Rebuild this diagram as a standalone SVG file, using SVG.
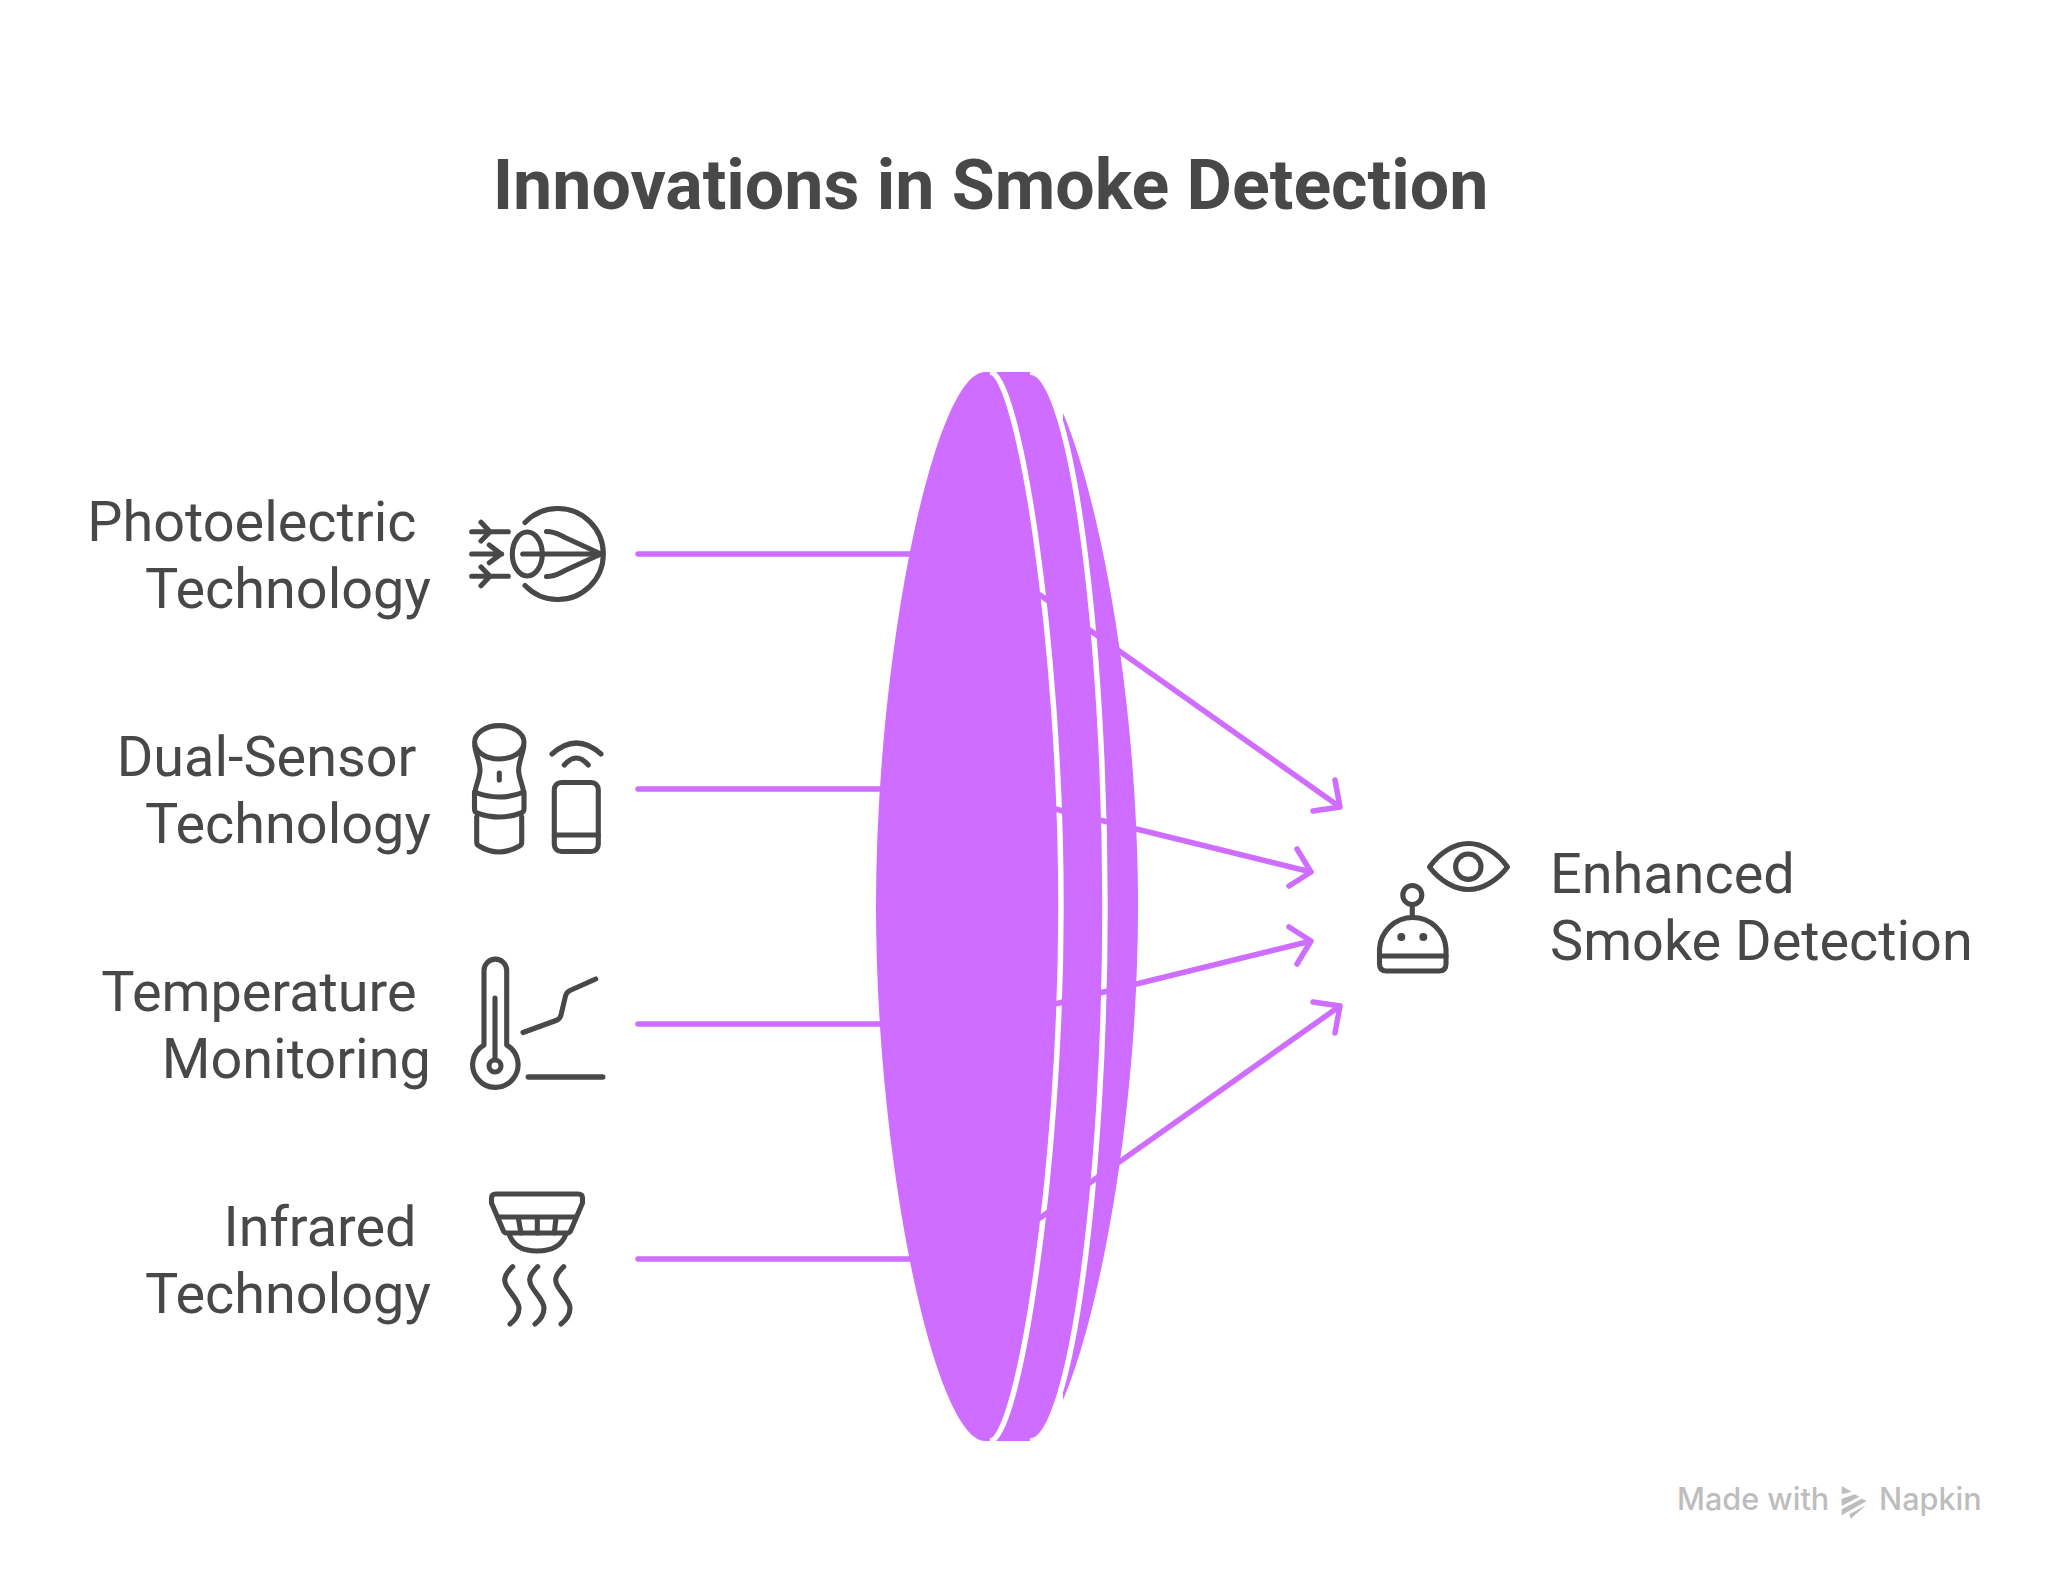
<svg xmlns="http://www.w3.org/2000/svg" width="2048" height="1578" viewBox="0 0 2048 1578">
<style>
.t{font-family:Roboto,"Liberation Sans",sans-serif;fill:#484848;font-size:55.8px}
.r{text-anchor:end}
.i{fill:none;stroke:#484848;stroke-width:5.1;stroke-linecap:round;stroke-linejoin:round}
.c{fill:none;stroke:#CE6DFF;stroke-width:5.5;stroke-linecap:round;stroke-linejoin:round}
.w{fill:none;stroke:#fff;stroke-width:5.5}
.f{fill:#CE6DFF}
.m{font-family:Inter,Roboto,"Liberation Sans",sans-serif;fill:#bdbdbd;font-size:30.6px;font-weight:500}
</style>
<rect width="2048" height="1578" fill="#fff"/>
<text id="title" x="990.500" y="209.300" text-anchor="middle" style="font-family:Roboto,'Liberation Sans',sans-serif;font-size:69.900px;font-weight:700;fill:#484848">Innovations in Smoke Detection</text>
<g id="lens">
<path class="f" d="M1063 413C1100 500 1138 700 1138 906.500C1138 1113 1100 1313 1063 1400Z"/>
<path class="f" d="M995 372H1030C1072 372 1105 640 1105 906.500C1105 1173 1072 1441 1030 1441H995Z"/>
<path class="w" d="M1030 372C1072 372 1105 640 1105 906.500C1105 1173 1072 1441 1030 1441"/>
<path class="f" d="M985 372C935 372 876 650 876 906.500C876 1163 935 1441 985 1441H990C1018 1441 1061 1173 1061 906.500C1061 640 1018 372 990 372Z"/>
<path class="w" d="M990 372C1018 372 1061 640 1061 906.500C1061 1173 1018 1441 990 1441"/>
</g>
<g id="connectors">
<path class="c" d="M638 554H915"/>
<path class="c" d="M638 789H885"/>
<path class="c" d="M638 1024H885"/>
<path class="c" d="M638 1259H915"/>
<path class="c" d="M1040 595L1340 807M1335 780L1340 807L1313 811"/>
<path class="c" d="M1055 809L1311 872M1297 849L1311 872L1289 886"/>
<path class="c" d="M1055 1004L1311 941M1297 964L1311 941L1289 927"/>
<path class="c" d="M1040 1218L1340 1006M1335 1033L1340 1006L1313 1002"/>
</g>
<g id="node-photoelectric">
<text class="t r" x="416.500" y="540.500">Photoelectric</text>
<text class="t r" x="430.800" y="607.500">Technology</text>
<g class="i">
<path d="M525 522.500A45.500 45.500 0 1 1 525 585.500"/>
<ellipse cx="527.300" cy="554" rx="15" ry="22"/>
<path d="M522.700 554H601.700"/>
<path d="M546.500 531.500C555 531.500 558 534 565 537.500L601 554L565 570.500C558 574 555 576.500 546.500 576.500"/>
<path d="M471.700 531.700H508.300M481 522.300L490 531.700L481 541"/>
<path d="M471.700 554H501.700M489.300 545L501 554L489.300 562.700"/>
<path d="M471.700 576.300H508.300M481 567L490 576.300L481 585.700"/>
</g>
</g>
<g id="node-dual-sensor">
<text class="t r" x="416.500" y="775.500">Dual-Sensor</text>
<text class="t r" x="430.800" y="842.500">Technology</text>
<g class="i">
<ellipse cx="499.300" cy="742.300" rx="24.700" ry="16.700"/>
<path d="M474.800 746C476 755 480 762 480 770C480 778 476 784 475 792M523.800 746C522.600 755 518.600 762 518.600 770C518.600 778 522.600 784 523.600 792"/>
<path d="M474.500 792V809Q474.500 812 477 813Q499 821 521 813Q524 812 524 809V792Q499 802 474.500 792Z"/>
<path d="M476.700 817V842Q476.700 845 479 846Q499 858 519.500 846Q521.700 845 521.700 842V817"/>
<path d="M499.300 773V780"/>
<rect x="554.300" y="782.500" width="44" height="69" rx="7"/>
<path d="M554.300 835H598.300"/>
<path d="M552 754Q576.500 732 601 754M564.300 765Q576.300 751 588.300 765"/>
</g>
</g>
<g id="node-temperature">
<text class="t r" x="416.500" y="1010.500">Temperature</text>
<text class="t r" x="430.800" y="1077.500">Monitoring</text>
<g class="i">
<path d="M484 1045V970.500A11.300 11.300 0 0 1 506.700 970.500V1045A22.700 22.700 0 1 1 484 1045Z"/>
<path d="M495 998V1058"/>
<circle cx="495" cy="1066" r="6"/>
<path d="M523 1032.500L556 1020.500Q560 1019 561 1015L565.500 996Q566.500 992 570 990.500L595.700 979"/>
<path d="M528.300 1077H602.700" stroke-width="5.500"/>
</g>
</g>
<g id="node-infrared">
<text class="t r" x="416.500" y="1245.500">Infrared</text>
<text class="t r" x="430.800" y="1312.500">Technology</text>
<g class="i">
<path d="M496 1194H578Q582.500 1194 582.500 1198V1203L571 1230Q570 1233 567 1233H507Q504 1233 503 1230L491.500 1203V1198Q491.500 1194 496 1194Z"/>
<path d="M498 1217H576M518.300 1218L521 1233M537.300 1218V1233M556 1218L554.300 1233"/>
<path d="M509 1234Q515 1251 537 1251Q560 1251 566 1234"/>
<path d="M512.700 1266.700C507 1272 504 1278 505 1282C506 1290 519 1299 519 1308C519 1315 514 1321 510 1324"/>
<path d="M537.700 1266.700C532 1272 529 1278 530 1282C531 1290 544 1299 544 1308C544 1315 539 1321 535 1324"/>
<path d="M563.700 1266.700C558 1272 555 1278 556 1282C557 1290 570 1299 570 1308C570 1315 565 1321 561 1324"/>
</g>
</g>
<g id="node-enhanced">
<text class="t" x="1550" y="892.500">Enhanced</text>
<text class="t" x="1550" y="959.500">Smoke Detection</text>
<g class="i">
<path d="M1429.500 867C1440 852 1455 843.500 1468.500 843.500C1482 843.500 1497 852 1507.500 867C1497 881 1482 889.500 1468.500 889.500C1455 889.500 1440 881 1429.500 867Z"/>
<circle cx="1468.300" cy="866.700" r="12.700"/>
<circle cx="1412.300" cy="895" r="9.500"/>
<path d="M1412.300 905V915"/>
<path d="M1379.500 964V949A33.300 33.300 0 0 1 1446 949V964Q1446 971 1439 971H1386.500Q1379.500 971 1379.500 964Z"/>
<path d="M1379.500 956H1446"/>
</g>
<circle cx="1401.300" cy="937" r="4" fill="#484848"/>
<circle cx="1423.300" cy="937" r="4" fill="#484848"/>
</g>
<g id="watermark">
<text class="m" x="1677" y="1510">Made with</text>
<text class="m" x="1879" y="1510">Napkin</text>
<path fill="#bdbdbd" d="M1841.700 1486L1851.700 1491.700L1841.700 1494.300ZM1841.700 1498.700L1855 1494.300L1859.300 1496.700L1841.700 1506ZM1841.700 1509.300L1861.700 1498.700L1866.700 1501L1841.700 1515.300ZM1849.300 1514.300L1866 1505.300L1850.700 1518.700Z"/>
</g>
</svg>
